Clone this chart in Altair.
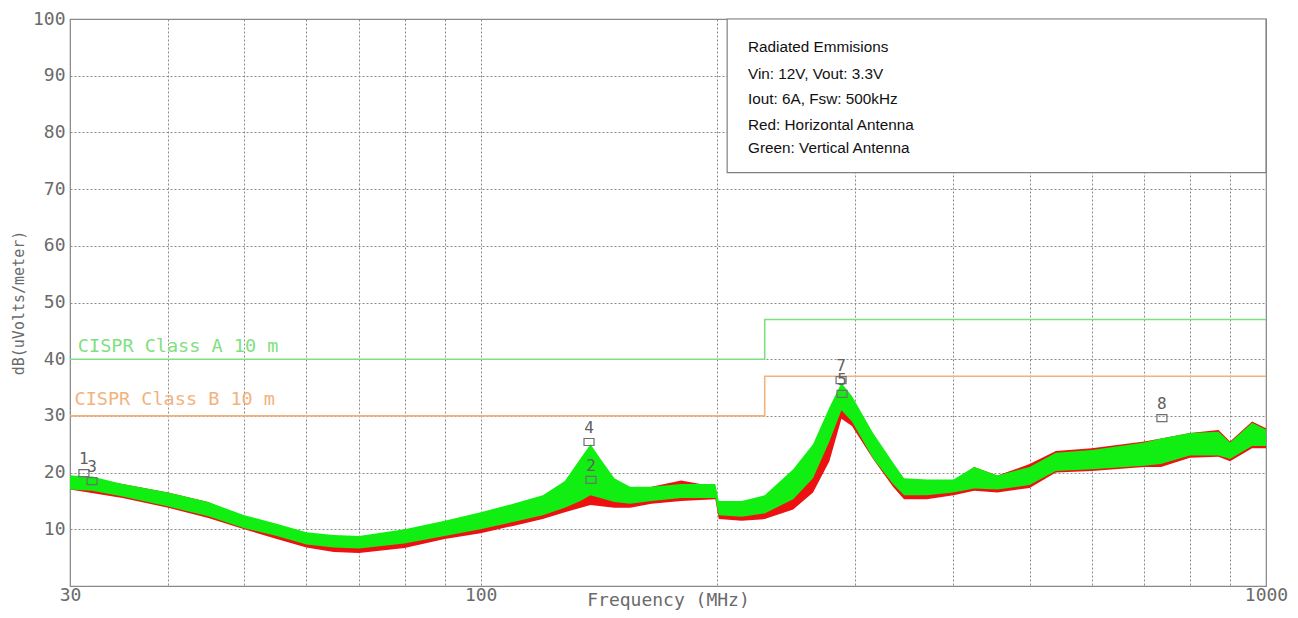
import altair as alt
import pandas as pd

# ---- trace envelopes (dB uV/m) ----
freq_g = [30, 32, 35, 40, 45, 50, 55, 60, 65, 70, 80, 90, 100, 110, 120, 128, 134, 138, 142, 148,
          155, 165, 180, 199, 201, 215, 230, 250, 265, 278, 288, 297, 316, 335, 346, 370, 400,
          425, 455, 500, 540, 600, 700, 735, 800, 870, 900, 960, 1000]
green_lo = [17.0, 16.8, 15.8, 14.0, 12.3, 10.2, 8.8, 7.3, 6.8, 6.6, 7.5, 8.8, 10.0, 11.3, 12.5, 13.8, 15.0, 16.0, 15.5, 14.8,
            14.5, 15.0, 15.5, 15.5, 12.5, 12.2, 12.8, 15.3, 19.0, 25.5, 31.0, 29.0, 22.5, 18.0, 16.0, 16.0, 16.5,
            17.2, 17.0, 17.8, 20.3, 20.6, 21.2, 21.5, 23.0, 23.0, 22.4, 24.7, 24.7]
green_hi = [19.5, 19.3, 18.0, 16.5, 14.8, 12.5, 11.0, 9.5, 9.0, 8.8, 10.0, 11.5, 13.0, 14.5, 16.0, 18.5, 22.5, 25.0, 22.5, 19.0,
            17.5, 17.5, 18.0, 18.0, 15.0, 15.0, 16.0, 20.6, 25.0, 31.5, 35.8, 33.5, 27.0, 21.8, 19.0, 18.8, 18.8,
            21.0, 19.5, 21.0, 23.5, 24.0, 25.3, 26.0, 27.0, 27.2, 25.3, 28.8, 27.6]

freq_r = [30, 35, 40, 45, 50, 55, 60, 65, 70, 80, 90, 100, 110, 120, 128, 138, 148, 155, 165, 180,
          199, 201, 215, 230, 250, 265, 278, 288, 297, 316, 335, 346, 370, 400, 425, 455, 500,
          540, 600, 700, 735, 800, 870, 900, 960, 1000]
red_lo = [17.0, 15.5, 13.8, 12.0, 10.0, 8.3, 6.8, 6.0, 5.8, 6.7, 8.3, 9.3, 10.6, 11.8, 13.0, 14.3, 13.8, 13.8, 14.5, 15.0,
          15.3, 11.8, 11.5, 11.8, 13.5, 16.5, 22.0, 29.5, 28.2, 22.4, 17.5, 15.3, 15.3, 16.0, 16.8, 16.5, 17.3,
          20.0, 20.3, 21.0, 21.0, 22.6, 22.8, 22.0, 24.3, 24.3]
red_hi = [19.5, 18.0, 16.5, 14.8, 12.0, 10.5, 8.8, 8.0, 7.5, 8.5, 10.0, 11.0, 12.4, 13.5, 15.0, 18.0, 16.0, 16.0, 17.5, 18.6,
          17.5, 13.8, 13.5, 14.0, 17.6, 21.2, 27.0, 33.5, 31.8, 25.9, 21.0, 18.0, 17.6, 18.5, 21.0, 19.5, 21.5,
          23.8, 24.3, 25.5, 26.0, 27.0, 27.5, 25.5, 29.0, 27.8]

# ---- limit lines ----
limit_freq = [30, 230, 1000]
class_a = [40, 47, 47]
class_b = [30, 37, 37]
limit_names = ["CISPR Class A 10 m", "CISPR Class B 10 m"]
limit_label_freq = [30.7, 30.4]
limit_label_level = [42.4, 32.9]

# ---- markers ----
marker_labels = ["1", "3", "4", "2", "7", "5", "8"]
marker_freq = [31.25, 32.0, 137.4, 138.2, 287.7, 288.5, 737]
marker_level = [19.9, 18.5, 25.4, 18.7, 36.3, 33.9, 29.6]

# ---- annotation box ----
legend_lines = ["Radiated Emmisions", "Vin: 12V, Vout: 3.3V", "Iout: 6A, Fsw: 500kHz",
                "Red: Horizontal Antenna", "Green: Vertical Antenna"]
legend_freq = 219
legend_level = [95.1, 90.3, 85.9, 81.3, 77.3]
box_freq = [206, 1000]
box_level = [72.9, 100]

PLOT_FONT = "DejaVu Sans Mono"
GRAY = "#6a6a6a"

xscale = alt.Scale(type="log", domain=[30, 1000], nice=False)
yscale = alt.Scale(domain=[0, 100], nice=False)

x_vals = [30, 40, 50, 60, 70, 80, 90, 100, 200, 300, 400, 500, 600, 700, 800, 900, 1000]
x_axis = alt.Axis(
    values=x_vals,
    labelExpr="(datum.value == 30 || datum.value == 100 || datum.value == 1000) ? '' + datum.value : ''",
    title="Frequency (MHz)", titleFont=PLOT_FONT, titleFontSize=18, titleFontWeight="normal",
    titleColor=GRAY, titleY=14, titleBaseline="middle",
    labelFont=PLOT_FONT, labelFontSize=18, labelColor=GRAY, labelPadding=0,
    tickSize=0, domain=False, grid=True, gridColor="#8a8a8a", gridDash=[2, 2], gridWidth=1,
    labelFlush=False, labelOverlap=False,
)
y_axis = alt.Axis(
    values=list(range(0, 101, 10)),
    labelExpr="datum.value == 0 ? '' : datum.label",
    title="dB(uVolts/meter)", titleFont=PLOT_FONT, titleFontSize=15, titleFontWeight="normal",
    titleColor=GRAY, titlePadding=6,
    labelFont=PLOT_FONT, labelFontSize=18, labelColor=GRAY, labelPadding=5,
    tickSize=0, domain=False, grid=True, gridColor="#8a8a8a", gridDash=[2, 2], gridWidth=1,
    labelFlush=False, labelOverlap=False,
)

red_df = pd.DataFrame({"f": freq_r, "db": red_lo, "hi": red_hi})
green_df = pd.DataFrame({"f": freq_g, "db": green_lo, "hi": green_hi})

red = alt.Chart(red_df).mark_area(color="#ee1111", opacity=1, strokeWidth=0).encode(
    x=alt.X("f:Q", scale=xscale, axis=x_axis),
    y=alt.Y("db:Q", scale=yscale, axis=y_axis),
    y2="hi:Q",
)
green = alt.Chart(green_df).mark_area(color="#11ee11", opacity=1).encode(
    x=alt.X("f:Q", scale=xscale), y=alt.Y("db:Q", scale=yscale), y2="hi:Q",
)

lim_df = pd.DataFrame({
    "f": limit_freq * 2,
    "db": class_a + class_b,
    "name": [limit_names[0]] * 3 + [limit_names[1]] * 3,
})
limit_color = alt.Scale(domain=limit_names, range=["#7fe07f", "#f2b27e"])
limits = alt.Chart(lim_df).mark_line(interpolate="step-after", strokeWidth=1.6).encode(
    x=alt.X("f:Q", scale=xscale), y=alt.Y("db:Q", scale=yscale),
    color=alt.Color("name:N", scale=limit_color, legend=None),
    detail="name:N",
)
lim_lab_df = pd.DataFrame({"f": limit_label_freq, "db": limit_label_level, "name": limit_names})
limit_text = alt.Chart(lim_lab_df).mark_text(
    align="left", baseline="middle", font=PLOT_FONT, fontSize=18.5
).encode(
    x=alt.X("f:Q", scale=xscale), y=alt.Y("db:Q", scale=yscale), text="name:N",
    color=alt.Color("name:N", scale=limit_color, legend=None),
)

mk_df = pd.DataFrame({"f": marker_freq, "db": marker_level, "lab": marker_labels})
marker_boxes = alt.Chart(mk_df).mark_point(
    shape="M -1 -0.7 L 1 -0.7 L 1 0.7 L -1 0.7 Z", size=100, filled=False,
    color="#707070", strokeWidth=1.2, opacity=1
).encode(x=alt.X("f:Q", scale=xscale), y=alt.Y("db:Q", scale=yscale))
marker_text = alt.Chart(mk_df).mark_text(
    font=PLOT_FONT, fontSize=16, color="#606060", dy=-14, baseline="middle"
).encode(x=alt.X("f:Q", scale=xscale), y=alt.Y("db:Q", scale=yscale), text="lab:N")

box_df = pd.DataFrame({"f": [box_freq[0]], "f2": [box_freq[1]], "db": [box_level[0]], "db2": [box_level[1]]})
box = alt.Chart(box_df).mark_rect(fill="white", stroke="#808080", strokeWidth=1.2).encode(
    x=alt.X("f:Q", scale=xscale), x2="f2:Q", y=alt.Y("db:Q", scale=yscale), y2="db2:Q",
)
leg_df = pd.DataFrame({"f": [legend_freq] * len(legend_lines), "db": legend_level, "t": legend_lines})
leg_text = alt.Chart(leg_df).mark_text(
    align="left", baseline="middle", font="Liberation Sans", fontSize=15.3, color="#111111"
).encode(x=alt.X("f:Q", scale=xscale), y=alt.Y("db:Q", scale=yscale), text="t:N")

chart = alt.layer(
    red, green, limits, limit_text, box, leg_text, marker_boxes, marker_text
).properties(
    width=1196, height=567,
    autosize=alt.AutoSizeParams(type="none"),
    padding={"left": 62, "top": 11, "right": 24, "bottom": 24},
    background="white",
).configure_view(stroke="#888888", strokeWidth=1.2)

chart.save("out.html", embed_options={"renderer": "svg", "actions": False})
